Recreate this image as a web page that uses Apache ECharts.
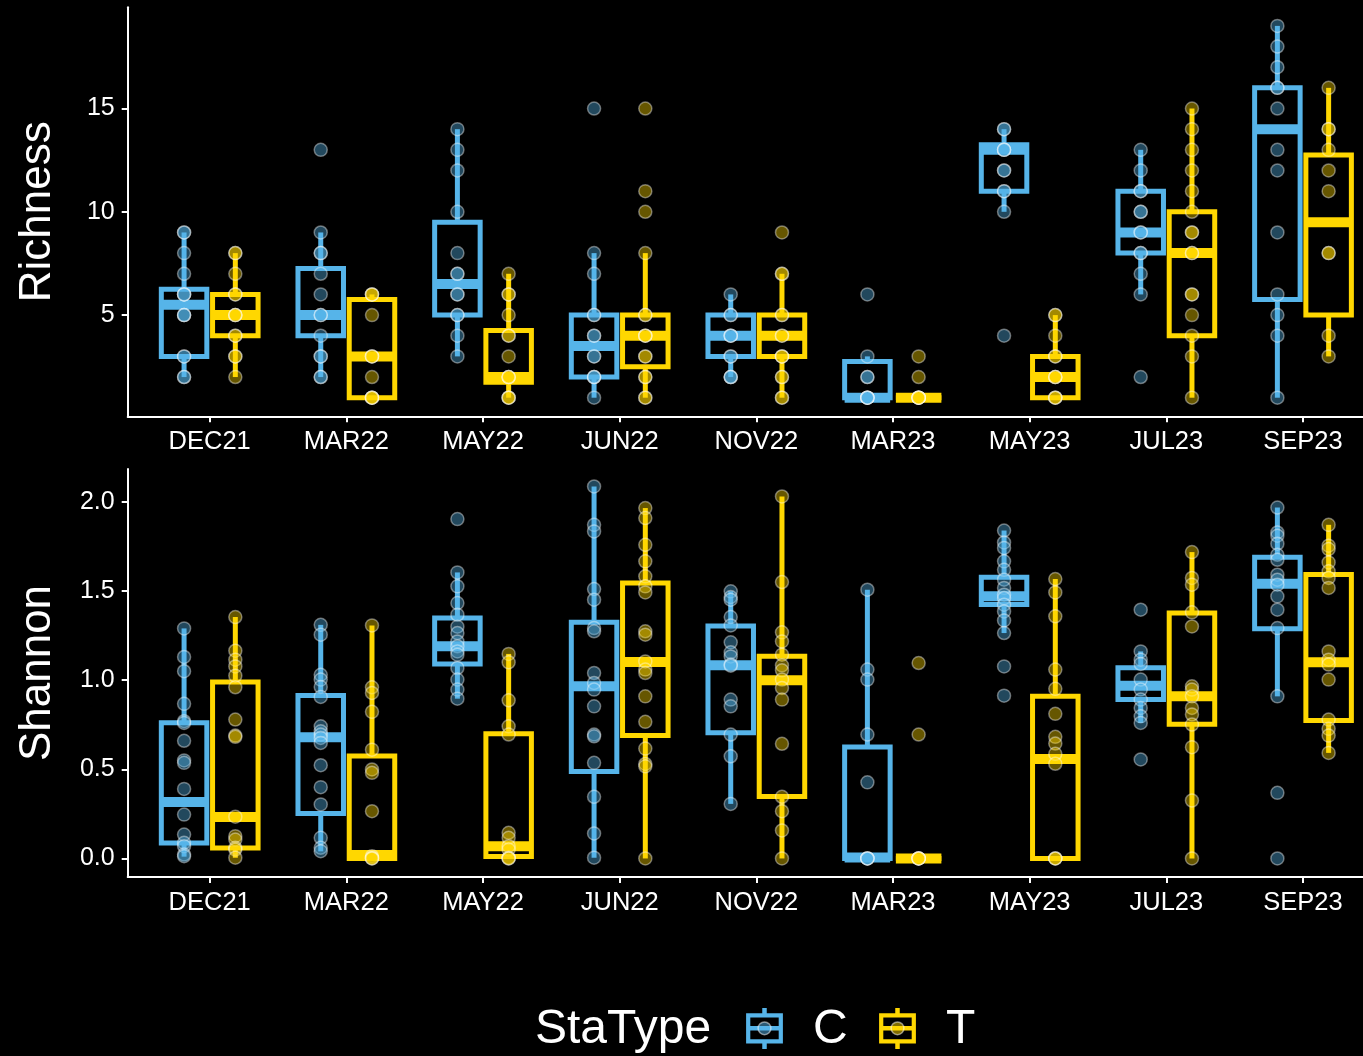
<!DOCTYPE html>
<html>
<head>
<meta charset="utf-8">
<script src="https://cdn.jsdelivr.net/npm/echarts@6/dist/echarts.min.js"></script>
<style>
  html, body { margin: 0; padding: 0; background: #000; }
  #chart { width: 1363px; height: 1056px; }
</style>
</head>
<body>
<div id="chart"></div>
<script>
// ---- data ----
const categories = ['DEC21', 'MAR22', 'MAY22', 'JUN22', 'NOV22', 'MAR23', 'MAY23', 'JUL23', 'SEP23'];
const staTypes = ['C', 'T'];

// box statistics per category: [lower whisker, Q1, median, Q3, upper whisker]
const richnessBoxC = [[2,3,5.5,6.25,9],[2,4,5,7.25,9],[3,5,6.5,9.5,14],[1,2,3.5,5,8],[2,3,4,5,6],[1,1,1,2.75,3],[10,11,13,13.25,14],[6,8,9,11,13],[1,5.75,14,16,19]];
const richnessBoxT = [[2,4,5,6,8],[1,1,3,5.75,6],[1,1.75,2,4.25,7],[1,2.5,4,5,8],[1,3,4,5,7],[1,1,1,1,1],[1,1,2,3,5],[1,4,8,10,15],[3,5,9.5,12.75,16]];
const shannonBoxC = [[0.01,0.087,0.316,0.761,1.29],[0.04,0.252,0.68,0.914,1.31],[0.896,1.091,1.19,1.349,1.604],[0.004,0.488,0.965,1.325,2.086],[0.306,0.705,1.083,1.303,1.498],[0,0,0.005,0.625,1.507],[1.264,1.424,1.47,1.577,1.839],[0.76,0.892,0.969,1.069,1.161],[0.909,1.288,1.541,1.689,1.968]];
const shannonBoxT = [[0.004,0.059,0.232,0.99,1.354],[0,0,0.02,0.574,1.307],[0,0.011,0.069,0.699,1.147],[0,0.69,1.102,1.545,1.965],[0,0.348,1.0,1.134,2.03],[0,0,0,0,0],[0,0,0.558,0.909,1.567],[0,0.752,0.909,1.377,1.718],[0.592,0.774,1.1,1.592,1.871]];

// individual sample values per category
const richnessPtsC = [
  [9,9,8,7,6,6,6,5,5,5,3,3,2,2],
  [13,9,8,8,7,6,5,5,4,3,3,2,2],
  [14,13,12,10,8,7,7,6,6,5,5,4,3],
  [15,8,7,5,5,4,4,3,3,2,2,2,1],
  [6,5,5,4,4,4,3,3,2,2,2],
  [6,3,2,2,1,1,1,1,1],
  [14,14,13,13,13,12,12,11,11,10,4],
  [13,12,11,11,10,10,9,9,8,8,7,6,2],
  [19,18,17,16,16,15,13,12,9,6,5,4,1]
];
const richnessPtsT = [
  [8,8,7,6,6,5,5,5,4,4,3,3,2],
  [6,6,6,5,3,3,3,2,1,1,1,1],
  [7,6,6,5,4,4,3,2,2,2,1,1,1],
  [15,11,10,8,5,5,4,4,4,3,3,2,2,1,1],
  [9,7,7,5,5,4,4,3,3,3,2,2,1,1],
  [3,2,1,1,1,1,1,1],
  [5,5,4,3,3,2,2,2,1,1,1],
  [15,14,13,12,11,10,9,9,8,8,6,6,5,4,3,1],
  [16,14,14,13,12,11,8,8,4,3]
];
const shannonPtsC = [
  [1.29,1.13,1.05,0.867,0.77,0.76,0.66,0.55,0.536,0.39,0.246,0.134,0.088,0.069,0.022,0.013],
  [1.31,1.255,1.03,1.003,0.962,0.906,0.741,0.713,0.695,0.676,0.648,0.523,0.40,0.303,0.116,0.06,0.041],
  [1.903,1.604,1.526,1.432,1.367,1.30,1.264,1.217,1.19,1.161,1.143,1.068,1.003,0.947,0.896],
  [2.086,1.871,1.834,1.511,1.451,1.292,1.274,1.04,0.984,0.947,0.853,0.695,0.685,0.536,0.346,0.14,0.004],
  [1.498,1.466,1.451,1.354,1.307,1.212,1.156,1.133,1.087,1.081,0.891,0.853,0.695,0.573,0.306],
  [1.507,1.059,1.003,0.695,0.427,0,0,0,0],
  [1.839,1.772,1.741,1.666,1.619,1.563,1.517,1.479,1.46,1.423,1.385,1.335,1.264,1.077,0.913],
  [1.395,1.161,1.115,1.091,1.003,0.947,0.891,0.844,0.797,0.76,0.555],
  [1.968,1.828,1.81,1.765,1.703,1.675,1.591,1.563,1.535,1.47,1.395,1.292,0.909,0.368,0]
];
const shannonPtsT = [
  [1.354,1.165,1.115,1.077,1.025,0.96,0.779,0.689,0.682,0.234,0.125,0.106,0.06,0.05,0.004],
  [1.307,0.96,0.928,0.822,0.61,0.499,0.48,0.265,0.013,0.004,0,0],
  [1.147,1.10,0.887,0.741,0.695,0.144,0.116,0.069,0.05,0.004,0,0],
  [1.965,1.909,1.759,1.666,1.582,1.526,1.492,1.274,1.255,1.105,1.059,1.04,0.909,0.766,0.616,0.53,0.517,0],
  [2.03,1.55,1.268,1.217,1.143,1.083,1.055,1.003,0.956,0.891,0.643,0.346,0.265,0.157,0],
  [1.096,0.695,0,0,0,0,0],
  [1.567,1.492,1.358,1.059,0.951,0.811,0.682,0.644,0.587,0.531,0,0,0],
  [1.718,1.573,1.535,1.38,1.301,0.965,0.947,0.909,0.844,0.807,0.751,0.624,0.325,0],
  [1.871,1.754,1.735,1.66,1.61,1.573,1.517,1.161,1.115,1.087,1.003,0.779,0.727,0.689,0.592]
];

// axis tick values
const richnessTicks = [5, 10, 15];
const shannonTicks = [0, 0.5, 1.0, 1.5, 2.0];
const categoryTicks = [1, 2, 3, 4, 5, 6, 7, 8, 9];

// ---- styling ----
const FONT = '"Liberation Sans", Arial, Helvetica, sans-serif';
const COLORS = { C: '#56B4E9', T: '#FFD700' };
const POINT_FILL = { C: 'rgba(86,180,233,0.5)', T: 'rgba(255,215,0,0.5)' };
const TEXT = '#ffffff';
const DODGE = 0.1875;      // half of the dodge width, in category units
const BOX_WIDTH = 0.333;   // box width in category units
const LINE_W = 5;

function boxData(stats, sign) {
  return stats.map((s, i) => [i + 1 + sign * DODGE].concat(s));
}
function pointData(lists, sign) {
  const out = [];
  lists.forEach((vals, i) => vals.forEach(v => out.push([i + 1 + sign * DODGE, v])));
  return out;
}

function boxRenderer(color) {
  return function (params, api) {
    const x = api.value(0);
    const lo = api.coord([x, api.value(1)]);
    const q1 = api.coord([x, api.value(2)]);
    const md = api.coord([x, api.value(3)]);
    const q3 = api.coord([x, api.value(4)]);
    const hi = api.coord([x, api.value(5)]);
    const w = api.size([BOX_WIDTH, 0], [x, api.value(3)])[0];
    const cx = md[0];
    const lineStyle = { stroke: color, lineWidth: LINE_W, fill: null, lineCap: 'butt' };
    return {
      type: 'group',
      children: [
        { type: 'line', shape: { x1: cx, y1: q3[1], x2: cx, y2: hi[1] }, style: lineStyle },
        { type: 'line', shape: { x1: cx, y1: q1[1], x2: cx, y2: lo[1] }, style: lineStyle },
        { type: 'rect', shape: { x: cx - w / 2, y: q3[1], width: w, height: q1[1] - q3[1] },
          style: { stroke: color, lineWidth: LINE_W, fill: 'none', lineJoin: 'miter' } },
        { type: 'line', shape: { x1: cx - w / 2, y1: md[1], x2: cx + w / 2, y2: md[1] },
          style: { stroke: color, lineWidth: LINE_W * 2, lineCap: 'butt' } }
      ]
    };
  };
}

function xAxisFor(gridIndex) {
  return {
    type: 'value', gridIndex: gridIndex, min: 0.4, max: 9.6,
    splitLine: { show: false },
    axisLine: { show: true, onZero: false, lineStyle: { color: TEXT, width: 2 } },
    axisTick: { show: true, length: 6, customValues: categoryTicks, lineStyle: { color: TEXT, width: 2 } },
    axisLabel: { customValues: categoryTicks, formatter: v => categories[Math.round(v) - 1],
      color: TEXT, fontSize: 25.5, fontFamily: FONT, margin: 12.5 }
  };
}
function yAxisFor(gridIndex, name, min, max, ticks, fmt) {
  return {
    type: 'value', gridIndex: gridIndex, min: min, max: max,
    name: name, nameLocation: 'middle', nameGap: 68,
    nameTextStyle: { color: TEXT, fontSize: 44, fontFamily: FONT },
    splitLine: { show: false },
    axisLine: { show: true, onZero: false, lineStyle: { color: TEXT, width: 2 } },
    axisTick: { show: true, length: 6, customValues: ticks, lineStyle: { color: TEXT, width: 2 } },
    axisLabel: { customValues: ticks, formatter: fmt, color: TEXT, fontSize: 25, fontFamily: FONT, margin: 13 }
  };
}

function panelSeries(gridIndex, boxC, boxT, ptsC, ptsT) {
  const base = { xAxisIndex: gridIndex, yAxisIndex: gridIndex };
  const pointStyle = key => ({
    color: POINT_FILL[key], borderColor: 'rgba(255,255,255,0.5)', borderWidth: 1.5
  });
  return [
    Object.assign({ type: 'custom', name: 'C', renderItem: boxRenderer(COLORS.C),
      data: boxData(boxC, -1), encode: { x: 0, y: [1, 2, 3, 4, 5] }, z: 2, silent: true }, base),
    Object.assign({ type: 'custom', name: 'T', renderItem: boxRenderer(COLORS.T),
      data: boxData(boxT, 1), encode: { x: 0, y: [1, 2, 3, 4, 5] }, z: 2, silent: true }, base),
    Object.assign({ type: 'scatter', name: 'C', data: pointData(ptsC, -1), symbolSize: 13,
      itemStyle: pointStyle('C'), z: 3 }, base),
    Object.assign({ type: 'scatter', name: 'T', data: pointData(ptsT, 1), symbolSize: 13,
      itemStyle: pointStyle('T'), z: 3 }, base)
  ];
}

// legend key: whisker, box, median and one sample point
function legendKey(x, key) {
  const color = COLORS[key];
  const cx = x + 18.5;
  return {
    type: 'group',
    children: [
      { type: 'line', shape: { x1: cx, y1: 1008, x2: cx, y2: 1049 }, style: { stroke: color, lineWidth: 4.5 } },
      { type: 'rect', shape: { x: x + 2.2, y: 1015.3, width: 32.6, height: 26 },
        style: { stroke: color, lineWidth: 4.2, fill: '#000' } },
      { type: 'line', shape: { x1: x + 2.2, y1: 1028.3, x2: x + 34.8, y2: 1028.3 }, style: { stroke: color, lineWidth: 4.5 } },
      { type: 'circle', shape: { cx: cx, cy: 1028.3, r: 6.4 },
        style: { fill: POINT_FILL[key], stroke: 'rgba(255,255,255,0.5)', lineWidth: 1.5 } }
    ]
  };
}

const option = {
  backgroundColor: '#000',
  animation: false,
  textStyle: { fontFamily: FONT },
  grid: [
    { left: 127.7, top: 7.3, width: 1257.3, height: 409, outerBoundsMode: 'none', containLabel: false },
    { left: 127.7, top: 469, width: 1257.3, height: 408, outerBoundsMode: 'none', containLabel: false }
  ],
  xAxis: [xAxisFor(0), xAxisFor(1)],
  yAxis: [
    yAxisFor(0, 'Richness', 0.1, 19.9, richnessTicks, v => String(v)),
    yAxisFor(1, 'Shannon', -0.104, 2.184, shannonTicks, v => v.toFixed(1))
  ],
  series: [].concat(
    panelSeries(0, richnessBoxC, richnessBoxT, richnessPtsC, richnessPtsT),
    panelSeries(1, shannonBoxC, shannonBoxT, shannonPtsC, shannonPtsT)
  ),
  graphic: [
    { type: 'text', x: 535, y: 1030, style: { text: 'StaType', fill: TEXT, fontSize: 48, fontFamily: FONT, verticalAlign: 'middle' } },
    legendKey(746, 'C'),
    { type: 'text', x: 813, y: 1030, style: { text: 'C', fill: TEXT, fontSize: 48, fontFamily: FONT, verticalAlign: 'middle' } },
    legendKey(879, 'T'),
    { type: 'text', x: 946, y: 1030, style: { text: 'T', fill: TEXT, fontSize: 48, fontFamily: FONT, verticalAlign: 'middle' } }
  ]
};

const chart = echarts.init(document.getElementById('chart'), null, { renderer: 'canvas' });
chart.setOption(option);
</script>
</body>
</html>
